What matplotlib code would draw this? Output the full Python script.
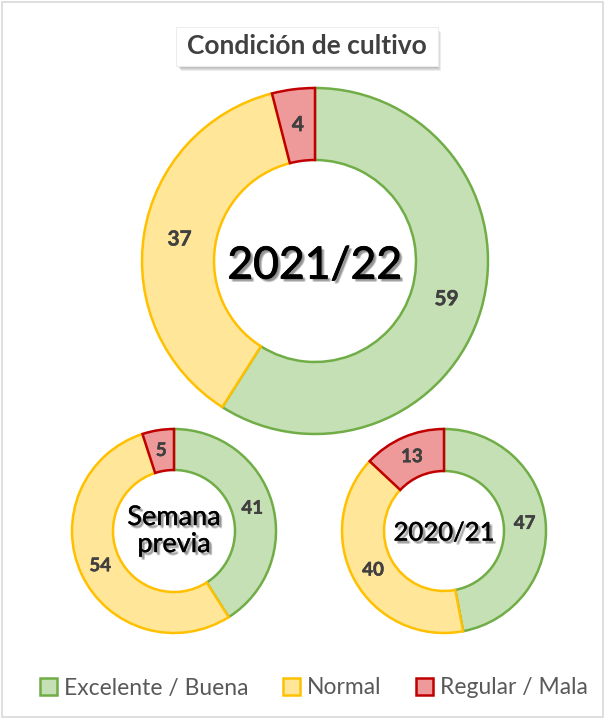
import matplotlib.pyplot as plt
import matplotlib.patheffects as pe
from matplotlib.patches import Patch, Rectangle

# ==========================
# DATOS
# ==========================

categorias = ["Excelente / Buena", "Normal", "Regular / Mala"]

actual = [59, 37, 4]
semana_previa = [41, 54, 5]
anterior = [47, 40, 13]

etiquetas_centro = ["2021/22", "Semana\nprevia", "2020/21"]

relleno = ["#C5E0B4", "#FFE699", "#EE9A9A"]
borde = ["#70AD47", "#FFC000", "#C00000"]

# ==========================
# FIGURA
# ==========================

W, H = 605, 719
plt.rcParams["font.family"] = ["Lato", "DejaVu Sans"]

fig = plt.figure(figsize=(W / 100, H / 100), dpi=100)
ax = fig.add_axes([0, 0, 1, 1])


def sombra(grosor):
    # sombra difusa para los textos del centro
    capas = [
        pe.SimplePatchShadow(offset=(dx, -dy), shadow_rgbFace="#000000", alpha=0.12)
        for dx, dy in [(0.8, 0.8), (1.6, 1.6), (2.4, 2.4), (1.6, 2.4), (2.4, 1.6)]
    ]
    return capas + [pe.Stroke(linewidth=grosor, foreground="black"), pe.Normal()]


# (valores, centro x, centro y en píxeles desde arriba, radio ext, radio int,
#  tamaño etiqueta, tamaño centro, desplazamiento y, grosor extra)
donas = [
    (actual, 315, 261, 173, 101, 15, 32, -5, 0.6),
    (semana_previa, 174, 531, 102, 61, 13.5, 19.5, 0, 0.25),
    (anterior, 444, 531, 102, 60, 13.5, 18.5, -2, 0.3),
]

for (valores, cx, cy, r, ri, fs_lab, fs_c, dy, gr), texto in zip(donas, etiquetas_centro):
    ancho = r - ri
    total = sum(valores)
    wedges, textos, autotextos = ax.pie(
        valores,
        center=(cx, H - cy),
        radius=r,
        startangle=90,
        counterclock=False,
        colors=relleno,
        autopct=lambda p, t=total: f"{p * t / 100:.0f}",
        pctdistance=(r - ancho / 2) / r,
        wedgeprops=dict(width=ancho, linewidth=1.8),
        textprops=dict(fontsize=fs_lab, fontweight="bold", color="#404040"),
        frame=True,
    )
    for w, c in zip(wedges, borde):
        w.set_edgecolor(c)
    for t in autotextos:
        t.set_path_effects([pe.Stroke(linewidth=0.35, foreground="#404040"), pe.Normal()])
    ax.text(
        cx, H - cy + dy, texto,
        ha="center", va="center", fontsize=fs_c, color="black",
        linespacing=1.1, path_effects=sombra(gr),
    )

ax.set_xlim(0, W)
ax.set_ylim(0, H)
ax.set_aspect("equal")
ax.axis("off")

# ==========================
# TÍTULO
# ==========================

for k in range(4):
    ax.add_patch(Rectangle((178 + k, H - 68 - k), 260, 39, facecolor="#000000",
                           alpha=0.07, edgecolor="none", zorder=5))
ax.add_patch(Rectangle((176, H - 66), 262, 39, facecolor="white",
                       edgecolor="#EDEDED", linewidth=0.8, zorder=6))
ax.text(307, H - 46, "Condición de cultivo", ha="center", va="center",
        fontsize=19, fontweight="bold", color="#404040", zorder=7)

# borde exterior
ax.add_patch(Rectangle((2, 2), W - 4, H - 4, facecolor="none",
                       edgecolor="#D9D9D9", linewidth=1.2, zorder=8))

# ==========================
# LEYENDA
# ==========================

handles = [Patch(facecolor=f, edgecolor=b, linewidth=1.8) for f, b in zip(relleno, borde)]
fig.legend(
    handles, categorias,
    loc="center", bbox_to_anchor=(314 / W, 1 - 688 / H),
    ncol=3, frameon=False, fontsize=16.5, labelcolor="#595959",
    handlelength=0.75, handleheight=0.75, handletextpad=0.3, columnspacing=1.5,
)

plt.savefig("out.png", dpi=100)
